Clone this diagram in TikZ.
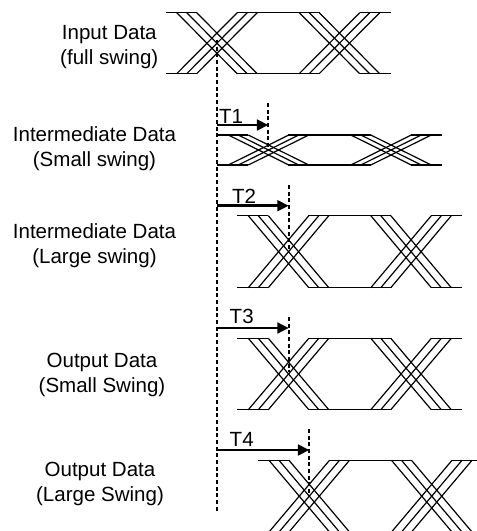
\documentclass[tikz,border=0pt]{standalone}
\usepackage{fontspec}
\setmainfont{Liberation Sans}
\usetikzlibrary{arrows.meta}

\newcommand{\eyepair}[5]{% start x, top y, bottom y, left end, right end
  \draw[wire] (#4,#2) -- (#1+20,#2) (#1+60,#2) -- (#1+143,#2) (#1+183,#2) -- (#5,#2);
  \draw[wire] (#4,#3) -- (#1+20,#3) (#1+60,#3) -- (#1+143,#3) (#1+183,#3) -- (#5,#3);
  \foreach \x in {0,122.5} {
    \foreach \d in {0,10,20} {
      \draw[wire] (#1+\x+\d,#2) -- (#1+\x+\d+60.5,#3);
      \draw[wire] (#1+\x+\d,#3) -- (#1+\x+\d+60.5,#2);
    }
  }
}

\begin{document}
\begin{tikzpicture}[x=0.75pt,y=-0.75pt,
    wire/.style={line width=0.9pt, black},
    guide/.style={line width=1.7pt, black, dash pattern=on 3pt off 2pt},
    delay/.style={line width=1.9pt, black, -{Triangle[length=8.5pt,width=8pt]}},
    lbl/.style={font=\fontsize{15.4}{18.75}\selectfont, align=center, inner sep=0pt}]
    \useasboundingbox (0,0) rectangle (477,531);
    \clip (0,0) rectangle (477,531);

    % eye patterns
    \eyepair{176.7}{12.7}{73.7}{166}{391}
    \eyepair{228.3}{135}{165}{217.3}{442}
    \eyepair{248.3}{215.7}{287.7}{237.3}{462.3}
    \eyepair{248.3}{338.3}{409.7}{237.3}{462.3}
    \eyepair{269}{460.3}{532}{257.7}{477}

    % vertical reference lines
    \coordinate (ref top) at (217.3,40);
    \coordinate (ref bot) at (217.3,511);
    \draw[guide] (ref top) -- (ref bot);
    \coordinate (a1) at (217.3,125);
    \coordinate (a2) at (217.3,205.7);
    \coordinate (a3) at (217.3,328);
    \coordinate (a4) at (217.3,450);
    \foreach \n/\x/\y/\ytop/\ybot/\lx/\ly in {1/268.3/125/103/150/231/116,
        2/288.7/205.7/185/250/244/196,
        3/288.7/328/317/372/241.7/316.7,
        4/309.3/450/429/493/241.7/439} {
      \coordinate (g\n top) at (\x,\ytop);
      \coordinate (g\n bot) at (\x,\ybot);
      \coordinate (b\n) at (\x,\y);
      \draw[guide] (g\n top) -- (g\n bot);
      \draw[delay] (a\n) -- (b\n);
      \node[lbl] (t\n) at (\lx,\ly) {T\n};
    }

    % labels
    \node[lbl] (input) at (109.3,47.3) {Input Data\\(full swing)};
    \node[lbl] (small) at (94.5,148.3) {Intermediate Data\\(Small swing)};
    \node[lbl] (large) at (94.5,246) {Intermediate Data\\(Large swing)};
    \node[lbl] (outs) at (102,375.3) {Output Data\\(Small Swing)};
    \node[lbl] (outl) at (100,484.3) {Output Data\\(Large Swing)};
\end{tikzpicture}
\end{document}
